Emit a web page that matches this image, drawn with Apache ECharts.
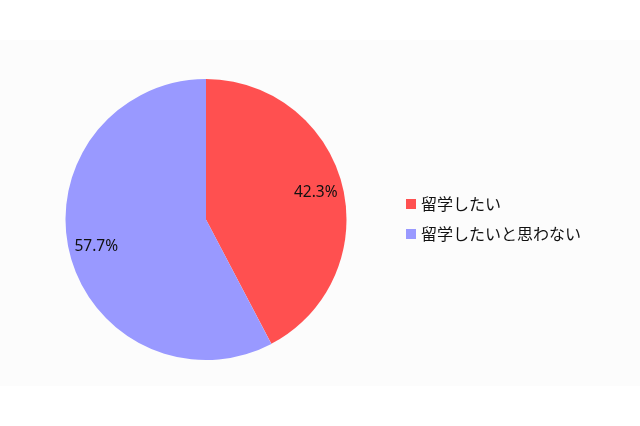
<!DOCTYPE html>
<html lang="ja" style="height: 100%">
    <head>
        <meta charset="utf-8" />
    </head>
    <body style="height: 100%; margin: 0; background: #fff">
        <div id="container" style="height: 100%"></div>

        <script
            type="text/javascript"
            src="https://fastly.jsdelivr.net/npm/echarts@6/dist/echarts.min.js"
        ></script>

        <script type="text/javascript">
            var categories = ['留学したい', '留学したいと思わない'];
            var values = [42.3, 57.7];
            var colors = ['#ff5050', '#9999ff'];

            var dom = document.getElementById('container');
            var myChart = echarts.init(dom, null, { renderer: 'canvas' });

            var pieData = categories.map(function (name, i) {
                return { name: name, value: values[i], itemStyle: { color: colors[i] } };
            });

            var option = {
                animation: false,
                graphic: [
                    {
                        type: 'rect',
                        z: -10,
                        shape: { x: 0, y: 40, width: 640, height: 346 },
                        style: { fill: '#fcfcfc' },
                    },
                ],
                legend: {
                    orient: 'vertical',
                    left: 406,
                    top: 196,
                    padding: 0,
                    itemWidth: 10,
                    itemHeight: 10,
                    itemGap: 14,
                    icon: 'rect',
                    textStyle: {
                        fontFamily: 'Noto Sans CJK JP',
                        fontSize: 16,
                        color: '#111',
                    },
                    data: categories,
                },
                series: [
                    {
                        name: 'main',
                        type: 'pie',
                        center: [206, 219.5],
                        radius: [0, 140.5],
                        startAngle: 90,
                        clockwise: true,
                        silent: true,
                        label: { show: false },
                        labelLine: { show: false },
                        itemStyle: { borderWidth: 0 },
                        data: pieData,
                    },
                    {
                        // label-only ring so percentages sit out toward the rim
                        name: 'labels',
                        type: 'pie',
                        center: [206, 219.5],
                        radius: [80, 140],
                        startAngle: 90,
                        clockwise: true,
                        silent: true,
                        legendHoverLink: false,
                        itemStyle: { color: 'rgba(0,0,0,0)', borderWidth: 0 },
                        label: {
                            show: true,
                            position: 'inside',
                            formatter: function (p) {
                                return p.value.toFixed(1) + '%';
                            },
                            fontFamily: 'Noto Sans',
                            fontSize: 15.5,
                            color: '#111',
                        },
                        labelLine: { show: false },
                        data: categories.map(function (name, i) {
                            return { name: name + ' ', value: values[i] };
                        }),
                    },
                ],
            };

            myChart.setOption(option);
            window.addEventListener('resize', myChart.resize);
        </script>
    </body>
</html>
